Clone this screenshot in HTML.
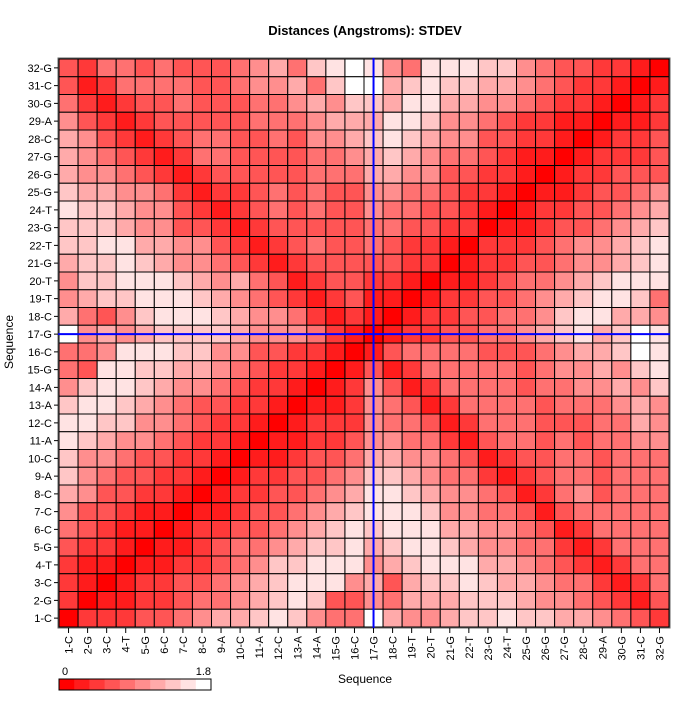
<!DOCTYPE html>
<html><head><meta charset="utf-8"><style>
body{margin:0;background:#fff}
svg text{font-family:"Liberation Sans",Arial,sans-serif}
</style></head><body>
<svg id="c" width="700" height="700" xmlns="http://www.w3.org/2000/svg">
<text x="365" y="35" text-anchor="middle" font-size="13" font-weight="bold">Distances (Angstroms):  STDEV</text>
<text x="365" y="683" text-anchor="middle" font-size="12">Sequence</text>
<text transform="translate(13,342) rotate(-90)" text-anchor="middle" font-size="12">Sequence</text>
<g id="cells"></g>
<g id="ticks"></g>
<g id="legend"></g>
</svg>
<script>
const labels=["1-C","2-G","3-C","4-T","5-G","6-C","7-C","8-C","9-A","10-C","11-A","12-C","13-A","14-A","15-G","16-C","17-G","18-C","19-T","20-T","21-G","22-T","23-G","24-T","25-G","26-G","27-G","28-C","29-A","30-G","31-C","32-G"];
// levels per row (row 32 first down to row 1), cols 1..32; value = level*0.18+0.05
const levelRows=[
[3,2,4,4,3,4,3,3,3,4,5,6,4,7,8,9, 8,5,4,8,8,8,7,7,5,4,3,3,2,2,1,0],
[3,1,2,4,4,4,4,3,3,4,5,5,6,4,7,9, 9,6,7,8,7,7,6,6,5,4,3,2,2,1,0,1],
[4,2,1,2,3,3,4,3,3,3,4,4,5,6,5,7, 7,6,8,8,6,6,5,5,4,3,2,2,1,0,1,2],
[5,3,2,1,2,3,3,3,3,3,4,4,4,5,6,6, 6,8,8,7,5,5,4,3,2,2,1,1,0,1,1,2],
[6,5,3,2,1,2,3,4,4,3,3,4,3,5,5,6, 7,8,7,6,5,5,3,3,2,2,1,0,1,2,2,3],
[6,5,4,3,2,1,2,4,4,3,3,3,3,4,4,5, 6,7,6,5,4,4,3,2,1,1,0,1,2,2,2,3],
[6,5,5,4,3,2,1,2,3,3,3,3,3,4,4,4, 6,6,5,5,3,3,2,2,1,0,1,2,2,3,3,3],
[7,6,6,5,5,4,2,1,2,2,3,4,3,4,3,3, 5,5,4,4,3,2,2,1,0,1,1,2,3,3,4,5],
[8,7,7,6,5,5,3,2,1,2,3,4,3,4,3,3, 5,4,4,3,3,2,1,0,1,2,2,3,3,4,5,6],
[7,7,7,6,5,5,3,3,2,1,2,3,3,3,3,3, 4,4,3,3,2,2,0,1,1,2,3,3,4,5,6,7],
[7,7,8,8,6,6,5,5,3,2,1,2,3,4,3,3, 4,3,2,2,1,0,2,2,2,3,4,5,5,6,7,8],
[6,7,7,8,7,6,5,5,4,3,2,1,2,3,3,3, 3,3,2,2,0,1,2,2,3,3,4,5,5,6,7,8],
[5,7,7,8,8,8,7,6,5,6,4,3,1,2,3,3, 2,2,1,0,1,1,2,3,4,4,5,6,7,8,8,8],
[5,6,7,7,8,8,8,7,6,5,4,3,2,1,2,3, 1,1,0,1,2,2,3,3,4,5,6,7,8,8,7,4],
[6,4,3,5,7,8,8,8,7,6,5,5,4,2,1,2, 1,0,1,2,2,3,3,4,4,5,7,8,8,6,6,5],
[9,5,6,5,6,7,7,7,7,6,5,5,5,4,2,1, 0,1,2,2,3,3,4,4,5,6,7,8,6,7,9,8],
[4,4,5,8,8,8,7,7,5,5,3,3,2,2,1,0, 1,3,4,4,4,4,3,3,3,4,5,6,6,7,9,8],
[4,3,8,8,7,7,6,6,5,4,3,2,2,1,0,1, 3,1,2,4,4,4,4,4,3,4,5,5,6,5,7,8],
[5,7,8,8,7,6,5,5,4,3,2,2,1,0,1,2, 5,3,1,2,4,4,4,4,3,4,4,5,5,6,5,7],
[7,8,8,7,6,5,4,3,3,2,2,1,0,1,1,2, 5,4,3,1,2,4,4,4,4,3,4,4,4,5,6,5],
[8,8,7,7,5,5,4,3,2,2,1,0,1,2,2,2, 5,4,4,3,1,2,4,4,4,3,3,3,4,4,6,5],
[8,7,6,5,5,4,3,2,2,1,0,1,1,2,2,3, 5,5,4,4,2,1,3,4,4,3,4,3,4,4,5,5],
[7,5,5,4,3,3,2,2,1,0,1,1,2,3,3,4, 6,6,5,5,4,3,1,2,3,3,4,4,3,4,4,4],
[7,5,4,3,3,2,2,1,0,1,2,2,3,3,4,5, 7,7,6,5,4,4,2,1,2,3,4,4,3,4,4,4],
[6,5,3,3,2,2,1,0,1,2,2,3,3,4,5,6, 8,8,7,6,5,5,4,3,1,2,4,5,3,4,4,4],
[5,3,3,2,1,1,0,1,1,2,3,3,4,5,6,7, 8,8,8,7,5,5,4,4,3,1,3,4,4,4,4,4],
[4,3,2,1,1,0,1,2,2,3,3,4,5,6,7,8, 7,8,8,8,6,6,5,5,4,3,1,2,4,4,4,4],
[3,2,2,1,0,1,1,2,3,4,4,5,6,7,7,8, 6,7,8,8,7,6,5,5,4,4,2,1,2,4,4,4],
[2,1,1,0,1,1,2,2,3,4,5,7,7,8,8,8, 5,6,7,8,8,8,6,6,5,4,3,2,1,2,4,4],
[2,1,0,1,2,2,3,3,4,5,6,7,8,8,8,5, 6,3,6,7,7,8,7,6,6,5,4,4,2,1,2,4],
[2,0,1,1,2,2,3,4,4,5,6,7,8,7,3,3, 5,4,6,6,6,7,7,7,6,5,5,4,3,2,1,3],
[0,2,2,2,3,3,4,5,6,6,7,8,7,5,4,4, 9,6,5,5,6,7,7,8,7,7,6,6,5,4,3,2]
];
const vmin=0, vmax=1.8, nColors=10;
const markCol=16.5, markRow=16.5; // blue cross position (between 16 and 17)

const NS="http://www.w3.org/2000/svg";
const X0=59,X1=669,Y0=59,Y1=627,n=labels.length;
const cw=(X1-X0)/n, ch=(Y1-Y0)/n;
const xs=i=>X0+i*cw; // i = 0-based column
const ys=r=>Y1-r*ch; // r = 0-based row from bottom
function col(v){let k=Math.min(nColors-1,Math.max(0,Math.floor((v-vmin)/(vmax-vmin)*nColors)));const g=Math.round(k*255/(nColors-1));return `rgb(255,${g},${g})`;}
function el(t,a,p){const e=document.createElementNS(NS,t);for(const k in a)e.setAttribute(k,a[k]);p.appendChild(e);return e;}
const cells=document.getElementById('cells');
levelRows.forEach((row,ri)=>{const r=n-1-ri;row.forEach((lv,c)=>{const v=lv*0.18+0.05;
 const e=el('rect',{x:xs(c),y:ys(r+1),width:cw,height:ch,fill:col(v),stroke:'#000','stroke-width':1},cells);
 
 });});
const t=document.getElementById('ticks');
el('rect',{x:X0-1,y:Y0-1,width:X1-X0+2,height:Y1-Y0+2,fill:'none',stroke:'#666','stroke-width':1},t);
labels.forEach((l,i)=>{
 const yc=ys(i+0.5), xc=xs(i+0.5);
 el('line',{x1:X0-5,x2:X0-1,y1:yc,y2:yc,stroke:'#000'},t);
 const ty=el('text',{x:X0-7,y:yc+4,'text-anchor':'end','font-size':11},t);ty.textContent=l;
 
 
 el('line',{x1:xc,x2:xc,y1:Y1+1,y2:Y1+6,stroke:'#000'},t);
 const tx=el('text',{transform:`translate(${xc+4},${Y1+9}) rotate(-90)`,'text-anchor':'end','font-size':11},t);tx.textContent=l;
 
 
});
const vl=el('line',{x1:xs(markCol),x2:xs(markCol),y1:Y0-1,y2:Y1+1,stroke:'#0000ff','stroke-width':2},t);


const hl=el('line',{x1:X0-1,x2:X1+1,y1:ys(markRow),y2:ys(markRow),stroke:'#0000ff','stroke-width':2},t);


const lg=document.getElementById('legend');
const LX=59,LW=152,LY=679,LH=11;
for(let k=0;k<nColors;k++){const g=Math.round(k*255/(nColors-1));
 const r=el('rect',{x:LX+k*LW/nColors,y:LY,width:LW/nColors+0.5,height:LH,fill:`rgb(255,${g},${g})`},lg);
 
 }
el('rect',{x:LX,y:LY,width:LW,height:LH,fill:'none',stroke:'#000'},lg);
const l0=el('text',{x:LX+3,y:LY-4,'font-size':11},lg);l0.textContent='0';


const l1=el('text',{x:LX+LW,y:LY-4,'font-size':11,'text-anchor':'end'},lg);l1.textContent='1.8';


</script>
</body></html>
